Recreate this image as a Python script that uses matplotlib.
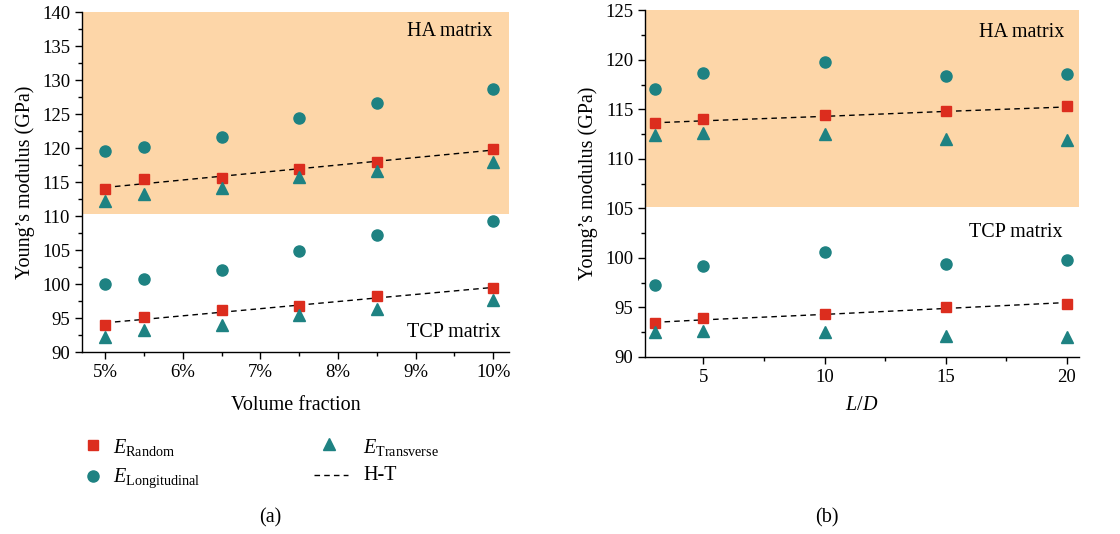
import matplotlib
matplotlib.use("Agg")
import matplotlib.pyplot as plt
from matplotlib.ticker import MultipleLocator, FuncFormatter
from matplotlib.lines import Line2D

plt.rcParams['font.family'] = ['Liberation Serif', 'DejaVu Serif']
plt.rcParams['mathtext.fontset'] = 'custom'
plt.rcParams['mathtext.rm'] = 'Liberation Serif'
plt.rcParams['mathtext.it'] = 'Liberation Serif:italic'

# ---- data (a) ----
vf = [5, 5.5, 6.5, 7.5, 8.5, 10]
a_long_ha = [119.5, 120.2, 121.6, 124.4, 126.6, 128.7]
a_rand_ha = [114.0, 115.5, 115.6, 116.9, 117.9, 119.8]
a_trans_ha = [112.2, 113.3, 114.1, 115.7, 116.6, 118.0]
a_ht_ha = [114.2, 114.75, 115.85, 116.95, 118.05, 119.7]
a_long_tcp = [100.0, 100.7, 102.1, 104.9, 107.2, 109.3]
a_rand_tcp = [93.9, 95.2, 96.2, 96.7, 98.2, 99.4]
a_trans_tcp = [92.2, 93.2, 94.0, 95.5, 96.3, 97.6]
a_ht_tcp = [94.3, 94.8, 95.85, 96.9, 97.95, 99.5]

# ---- data (b) ----
ld = [3, 5, 10, 15, 20]
b_long_ha = [117.1, 118.7, 119.8, 118.4, 118.6]
b_rand_ha = [113.6, 114.0, 114.4, 114.8, 115.3]
b_trans_ha = [112.45, 112.6, 112.5, 112.0, 111.9]
b_ht_ha = [113.65, 113.85, 114.3, 114.8, 115.25]
b_long_tcp = [97.3, 99.2, 100.6, 99.4, 99.8]
b_rand_tcp = [93.45, 93.9, 94.3, 95.0, 95.4]
b_trans_tcp = [92.5, 92.6, 92.5, 92.1, 92.0]
b_ht_tcp = [93.5, 93.75, 94.3, 94.9, 95.5]

RED = '#dc2d1e'
TEAL = '#1e8282'
ORANGE = '#fdd6a8'
FS = 13.5
FT = 14.5

fig = plt.figure(figsize=(11.2, 5.34), dpi=100)
axa = fig.add_axes([0.0732, 0.3408, 0.381, 0.6367])
axb = fig.add_axes([0.576, 0.3315, 0.3875, 0.649])


def draw(ax, x, lha, rha, tha, htha, ltcp, rtcp, ttcp, httcp):
    for L, R, T, H in [(lha, rha, tha, htha), (ltcp, rtcp, ttcp, httcp)]:
        ax.plot(x, H, ls=(0, (4, 3)), color='black', lw=1.0, zorder=3)
        ax.plot(x, L, 'o', color=TEAL, ms=8, ls='none', zorder=4)
        ax.plot(x, R, 's', color=RED, ms=7.5, ls='none', zorder=4)
        ax.plot(x, T, '^', color=TEAL, ms=8.5, ls='none', zorder=4)
    for s in ['top', 'right']:
        ax.spines[s].set_visible(False)
    for s in ['left', 'bottom']:
        ax.spines[s].set_linewidth(1.0)
    ax.tick_params(which='major', direction='out', length=5, width=1.0, labelsize=FS)
    ax.tick_params(which='minor', direction='out', length=3, width=1.0)


draw(axa, vf, a_long_ha, a_rand_ha, a_trans_ha, a_ht_ha,
     a_long_tcp, a_rand_tcp, a_trans_tcp, a_ht_tcp)
axa.axhspan(110.3, 140, color=ORANGE, lw=0, zorder=0)
axa.set_xlim(4.7, 10.2)
axa.set_ylim(90, 140)
axa.xaxis.set_major_locator(MultipleLocator(1))
axa.xaxis.set_minor_locator(MultipleLocator(0.5))
axa.yaxis.set_major_locator(MultipleLocator(5))
axa.yaxis.set_minor_locator(MultipleLocator(2.5))
axa.xaxis.set_major_formatter(FuncFormatter(lambda v, p: f'{v:.0f}%'))
axa.set_xlabel('Volume fraction', fontsize=FT, labelpad=11)
axa.set_ylabel('Young\u2019s modulus (GPa)', fontsize=FT, labelpad=5)
axa.text(0.962, 0.942, 'HA matrix', transform=axa.transAxes, ha='right', va='center', fontsize=FT)
axa.text(0.981, 0.058, 'TCP matrix', transform=axa.transAxes, ha='right', va='center', fontsize=FT)

draw(axb, ld, b_long_ha, b_rand_ha, b_trans_ha, b_ht_ha,
     b_long_tcp, b_rand_tcp, b_trans_tcp, b_ht_tcp)
axb.axhspan(105.1, 125, color=ORANGE, lw=0, zorder=0)
axb.set_xlim(2.6, 20.5)
axb.set_ylim(90, 125)
axb.xaxis.set_major_locator(MultipleLocator(5))
axb.xaxis.set_minor_locator(MultipleLocator(2.5))
axb.yaxis.set_major_locator(MultipleLocator(5))
axb.yaxis.set_minor_locator(MultipleLocator(2.5))
axb.set_xlabel('$L/D$', fontsize=FT, labelpad=7)
axb.set_ylabel('Young\u2019s modulus (GPa)', fontsize=FT, labelpad=5)
axb.text(0.966, 0.935, 'HA matrix', transform=axb.transAxes, ha='right', va='center', fontsize=FT)
axb.text(0.962, 0.358, 'TCP matrix', transform=axb.transAxes, ha='right', va='center', fontsize=FT)

# legend (manual, figure coordinates)
def fx(px):
    return px / 1120.0

def fy(py):
    return 1 - py / 534.0

fig.add_artist(Line2D([fx(93)], [fy(445)], marker='s', color=RED, ms=7.5, ls='none'))
fig.add_artist(Line2D([fx(93)], [fy(476)], marker='o', color=TEAL, ms=8, ls='none'))
fig.add_artist(Line2D([fx(329)], [fy(444)], marker='^', color=TEAL, ms=8.5, ls='none'))
fig.add_artist(Line2D([fx(314), fx(348)], [fy(475), fy(475)], ls=(0, (4, 3)), color='black', lw=1.0))
fig.text(fx(113), fy(447), r'$E_{\mathrm{Random}}$', fontsize=FT, va='center')
fig.text(fx(113), fy(478), r'$E_{\mathrm{Longitudinal}}$', fontsize=FT, va='center')
fig.text(fx(363), fy(447), r'$E_{\mathrm{Transverse}}$', fontsize=FT, va='center')
fig.text(fx(363), fy(476), 'H-T', fontsize=FT, va='center')

fig.text(fx(270), fy(518), '(a)', fontsize=FT, ha='center', va='center')
fig.text(fx(827), fy(518), '(b)', fontsize=FT, ha='center', va='center')

fig.savefig('out.png', dpi=100)
